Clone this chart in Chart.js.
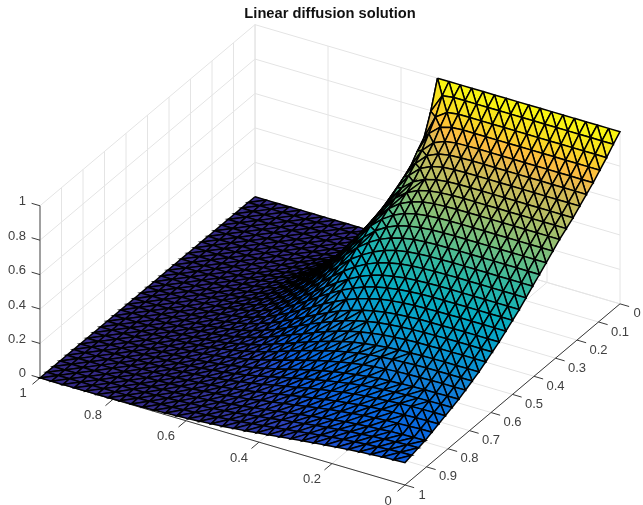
<!DOCTYPE html>
<html>
<head>
<meta charset="utf-8">
<style>
  html, body { margin: 0; padding: 0; background: #fff; }
  #wrap { width: 643px; height: 505px; }
</style>
<script src="https://cdn.jsdelivr.net/npm/chart.js@4/dist/chart.umd.min.js"></script>
</head>
<body>
<div id="wrap"><canvas id="chart" width="643" height="505"></canvas></div>
<script>
// Tick values and labels
const xTicks = [1, 0.8, 0.6, 0.4, 0.2, 0];
const yTicks = [0, 0.1, 0.2, 0.3, 0.4, 0.5, 0.6, 0.7, 0.8, 0.9, 1];
const zTicks = [0, 0.2, 0.4, 0.6, 0.8, 1];

// Mesh nodes
const xNodes = [0, .03125, .0625, .09375, .125, .15625, .1875, .21875, .25, .28125, .3125, .34375, .375, .40625, .4375, .46875, .5,
  .53125, .5625, .59375, .625, .65625, .6875, .71875, .75, .78125, .8125, .84375, .875, .90625, .9375, .96875, 1];
const yNodes = xNodes.slice();

// u(x, y), one row per yNodes entry, one column per xNodes entry
const uRows = [
  [1,1,1,1,1,1,1,1,1,1,1,1,1,1,1,1,1,0,0,0,0,0,0,0,0,0,0,0,0,0,0,0,0],
  [.96,.96,.96,.96,.96,.96,.96,.96,.96,.96,.96,.96,.96,.96,.96,.95,.84,.48,.115,.01,0,0,0,0,0,0,0,0,0,0,0,0,0],
  [.915,.915,.915,.915,.915,.915,.915,.915,.915,.915,.915,.915,.915,.915,.905,.86,.72,.46,.197,.055,.009,.001,0,0,0,0,0,0,0,0,0,0,0],
  [.875,.875,.875,.875,.875,.875,.875,.875,.875,.875,.875,.875,.875,.87,.853,.796,.674,.481,.271,.118,.037,.009,.002,0,0,0,0,0,0,0,0,0,0],
  [.835,.835,.835,.835,.835,.835,.835,.835,.835,.835,.835,.834,.832,.822,.795,.732,.62,.469,.302,.162,.073,.026,.008,.002,0,0,0,0,0,0,0,0,0],
  [.8,.8,.8,.8,.8,.8,.8,.8,.8,.8,.8,.798,.794,.782,.752,.688,.59,.458,.315,.185,.094,.04,.014,.004,.001,0,0,0,0,0,0,0,0],
  [.765,.765,.765,.765,.765,.765,.765,.765,.765,.765,.764,.762,.757,.742,.711,.65,.561,.447,.318,.204,.115,.056,.024,.008,.002,.001,0,0,0,0,0,0,0],
  [.73,.73,.73,.73,.73,.73,.73,.73,.73,.73,.729,.726,.718,.7,.668,.612,.531,.43,.32,.216,.131,.071,.034,.015,.005,.002,.001,0,0,0,0,0,0],
  [.7,.7,.7,.7,.7,.7,.7,.7,.7,.7,.698,.694,.686,.669,.637,.585,.513,.42,.319,.224,.141,.081,.042,.019,.008,.003,.001,0,0,0,0,0,0],
  [.67,.67,.67,.67,.67,.67,.67,.67,.67,.669,.667,.663,.655,.637,.606,.557,.491,.409,.316,.228,.149,.09,.05,.024,.011,.004,.001,.001,0,0,0,0,0],
  [.635,.635,.635,.635,.635,.635,.635,.635,.635,.634,.632,.627,.618,.601,.572,.528,.469,.398,.318,.237,.166,.107,.064,.034,.017,.008,.003,.001,.001,0,0,0,0],
  [.6,.6,.6,.6,.6,.6,.6,.6,.6,.598,.596,.59,.58,.563,.535,.493,.437,.373,.3,.227,.163,.107,.065,.037,.02,.01,.004,.002,.001,.001,0,0,0],
  [.565,.565,.565,.565,.565,.565,.565,.565,.564,.563,.56,.554,.542,.525,.497,.459,.409,.349,.283,.216,.156,.106,.068,.04,.023,.011,.005,.002,.001,.001,0,0,0],
  [.53,.53,.53,.53,.53,.53,.53,.53,.528,.527,.523,.516,.504,.485,.456,.419,.374,.318,.259,.2,.146,.103,.067,.041,.023,.012,.006,.003,.001,.001,0,0,0],
  [.495,.495,.495,.495,.495,.495,.495,.494,.493,.49,.486,.478,.465,.446,.419,.383,.339,.289,.236,.185,.137,.098,.065,.041,.024,.013,.007,.003,.001,.001,0,0,0],
  [.46,.46,.46,.46,.46,.46,.46,.459,.457,.454,.449,.439,.426,.406,.38,.345,.305,.261,.214,.169,.127,.091,.062,.04,.024,.014,.008,.004,.002,.001,.001,0,0],
  [.43,.43,.43,.43,.43,.429,.429,.428,.426,.422,.415,.405,.391,.372,.345,.313,.276,.237,.193,.154,.117,.085,.058,.039,.025,.015,.008,.004,.002,.001,.001,0,0],
  [.4,.4,.4,.4,.4,.399,.398,.396,.394,.389,.382,.372,.356,.336,.311,.28,.247,.209,.173,.136,.105,.076,.053,.036,.023,.014,.008,.004,.002,.001,.001,0,0],
  [.37,.37,.37,.37,.369,.368,.367,.366,.362,.357,.349,.337,.321,.301,.278,.249,.218,.185,.152,.121,.092,.069,.049,.033,.021,.013,.008,.004,.003,.001,.001,0,0],
  [.345,.345,.345,.345,.344,.343,.342,.339,.335,.329,.321,.308,.293,.274,.25,.224,.196,.165,.136,.107,.083,.062,.043,.03,.02,.012,.008,.004,.003,.001,.001,.001,0],
  [.32,.32,.32,.319,.319,.317,.316,.313,.308,.302,.293,.281,.265,.246,.224,.199,.172,.148,.121,.096,.074,.055,.039,.027,.018,.012,.007,.004,.002,.001,.001,.001,0],
  [.295,.295,.294,.294,.293,.292,.289,.286,.281,.274,.265,.253,.238,.22,.199,.177,.154,.129,.107,.084,.066,.05,.035,.025,.017,.011,.007,.004,.002,.001,.001,.001,0],
  [.275,.275,.274,.274,.273,.271,.268,.264,.259,.252,.242,.23,.216,.199,.18,.159,.138,.116,.095,.076,.059,.045,.033,.023,.016,.011,.007,.004,.002,.001,.001,.001,0],
  [.255,.254,.254,.253,.251,.249,.246,.241,.236,.227,.217,.205,.19,.175,.156,.137,.118,.099,.08,.065,.05,.038,.028,.019,.014,.009,.006,.004,.002,.001,.001,.001,0],
  [.235,.234,.233,.232,.23,.227,.223,.219,.212,.203,.193,.181,.167,.151,.135,.118,.1,.084,.068,.054,.042,.032,.024,.016,.012,.008,.005,.003,.002,.001,.001,.001,0],
  [.22,.219,.218,.216,.214,.211,.206,.201,.193,.185,.173,.162,.148,.134,.118,.103,.087,.073,.059,.047,.036,.028,.02,.015,.01,.007,.005,.003,.002,.001,.001,.001,0],
  [.205,.204,.203,.201,.198,.194,.189,.183,.175,.166,.155,.144,.131,.117,.104,.09,.076,.063,.052,.041,.032,.024,.018,.013,.009,.006,.004,.003,.002,.001,.001,.001,0],
  [.19,.189,.187,.184,.181,.177,.172,.165,.157,.148,.138,.127,.115,.103,.09,.078,.066,.054,.044,.035,.028,.021,.016,.012,.008,.006,.004,.003,.002,.001,.001,.001,0],
  [.175,.174,.171,.168,.165,.16,.155,.148,.14,.132,.122,.111,.1,.089,.078,.068,.056,.047,.038,.031,.024,.018,.014,.01,.007,.005,.004,.002,.002,.001,.001,.001,0],
  [.16,.158,.156,.153,.148,.144,.138,.132,.124,.116,.106,.097,.087,.077,.067,.058,.048,.04,.032,.026,.02,.016,.011,.009,.006,.004,.003,.002,.001,.001,.001,0,0],
  [.15,.148,.145,.142,.138,.132,.127,.12,.113,.105,.096,.087,.078,.068,.06,.051,.042,.035,.028,.023,.018,.014,.01,.008,.005,.004,.003,.002,.001,.001,.001,0,0],
  [.14,.138,.134,.13,.126,.12,.115,.108,.101,.092,.084,.076,.067,.059,.051,.043,.036,.03,.024,.019,.015,.011,.009,.006,.005,.003,.002,.002,.001,.001,.001,0,0],
  [.13,.127,.124,.119,.115,.109,.103,.096,.089,.082,.074,.066,.058,.051,.043,.037,.03,.025,.02,.016,.013,.01,.007,.005,.004,.003,.002,.001,.001,.001,0,0,0]
];

// Parula colormap stops [value, r, g, b]
const colorStops = [
  [0.000, 53, 42, 135], [0.079, 44, 67, 186], [0.127, 15, 92, 221], [0.190, 8, 109, 224], [0.254, 20, 129, 214],
  [0.317, 9, 152, 209], [0.413, 7, 172, 193], [0.508, 46, 183, 164], [0.603, 113, 191, 128], [0.698, 174, 190, 103],
  [0.794, 216, 186, 85], [0.841, 249, 186, 68], [0.873, 254, 195, 55], [0.905, 247, 216, 37], [1.000, 249, 251, 14]
];

const gridColor = '#e4e4e4';
const axisColor = '#3a3a3a';
const textColor = '#404040';
const meshColor = '#000000';

// Orthographic view of the unit box, in canvas units
function project(x, y, z) {
  const a = 1 - x, b = 1 - y;
  return { x: 40 + 365 * a + 215 * b, y: 378 + 107 * a - 181 * b - 172 * z };
}

function surfaceColor(v) {
  const c = Math.max(0, Math.min(1, v));
  for (let k = 1; k < colorStops.length; k++) {
    if (c <= colorStops[k][0]) {
      const p = colorStops[k - 1], q = colorStops[k];
      const t = (c - p[0]) / (q[0] - p[0]);
      return `rgb(${Math.round(p[1] + (q[1] - p[1]) * t)},${Math.round(p[2] + (q[2] - p[2]) * t)},${Math.round(p[3] + (q[3] - p[3]) * t)})`;
    }
  }
  return 'rgb(249,251,14)';
}

function lineSet(points, color, width) {
  return {
    data: points.map(p => project(p[0], p[1], p[2])),
    borderColor: color, borderWidth: width,
    pointRadius: 0, fill: false, tension: 0, showLine: true, clip: false
  };
}

// Painter's order: first pushed is the farthest
const drawList = [];

// Walls and floor grid
zTicks.forEach(z => {
  drawList.push(lineSet([[1, 1, z], [1, 0, z], [0, 0, z]], gridColor, 1));
});
xTicks.forEach(x => {
  drawList.push(lineSet([[x, 1, 0], [x, 0, 0], [x, 0, 1]], gridColor, 1));
});
yTicks.forEach(y => {
  drawList.push(lineSet([[0, y, 0], [1, y, 0], [1, y, 1]], gridColor, 1));
});

// Axis lines and tick marks
drawList.push(lineSet([[1, 1, 0], [1, 1, 1]], '#6a6a6a', 1.2));
drawList.push(lineSet([[1, 1, 0], [0, 1, 0], [0, 0, 0]], axisColor, 1));
xTicks.forEach(x => {
  drawList.push(lineSet([[x, 1, 0], [x, 1.035, 0]], axisColor, 1));
});
yTicks.forEach(y => {
  drawList.push(lineSet([[0, y, 0], [-0.025, y, 0]], axisColor, 1));
});
zTicks.forEach(z => {
  drawList.push(lineSet([[1, 1, z], [1.023, 1, z]], axisColor, 1));
});

// Surface triangles
function triangle(i1, n1, i2, n2, i3, n3) {
  const u1 = uRows[n1][i1], u2 = uRows[n2][i2], u3 = uRows[n3][i3];
  return {
    data: [
      project(xNodes[i1], yNodes[n1], u1),
      project(xNodes[i2], yNodes[n2], u2),
      project(xNodes[i3], yNodes[n3], u3),
      project(xNodes[i1], yNodes[n1], u1)
    ],
    borderColor: meshColor, borderWidth: 1.5,
    backgroundColor: surfaceColor((u1 + u2 + u3) / 3),
    pointRadius: 0, fill: 'shape', tension: 0, showLine: true, clip: false
  };
}
for (let n = 0; n < yNodes.length - 1; n++) {
  for (let i = xNodes.length - 2; i >= 0; i--) {
    // the mesh diagonal flips on the slope of the high plateau
    const steep = i < 18 && uRows[n][i] - uRows[n + 1][i] > 0.012 + 0.0015 * i;
    if (steep) {
      drawList.push(triangle(i + 1, n, i, n, i, n + 1));
      drawList.push(triangle(i + 1, n, i, n + 1, i + 1, n + 1));
    } else {
      drawList.push(triangle(i + 1, n, i, n, i + 1, n + 1));
      drawList.push(triangle(i, n, i, n + 1, i + 1, n + 1));
    }
  }
}

// Tick labels sit at a fixed offset from their tick
const tickLabels = {
  id: 'tickLabels',
  afterDraw(chart) {
    const { ctx, scales } = chart;
    const put = (text, p, dx, dy, align) => {
      ctx.textAlign = align;
      ctx.fillText(text, scales.x.getPixelForValue(p.x) + dx, scales.y.getPixelForValue(p.y) + dy);
    };
    ctx.save();
    ctx.font = '13px "Liberation Sans", Arial, sans-serif';
    ctx.fillStyle = textColor;
    ctx.textBaseline = 'middle';
    zTicks.forEach(z => put(String(z), project(1, 1, z), -14, -4, 'right'));
    xTicks.forEach(x => put(String(x), project(x, 1, 0), x === 0 || x === 1 ? -17 : -20, 16, 'center'));
    yTicks.forEach(y => put(String(y), project(0, y, 0), y === 0 || y === 1 ? 17 : 21.5, 10, 'center'));
    ctx.restore();
  }
};

new Chart(document.getElementById('chart'), {
  type: 'scatter',
  data: { datasets: drawList.slice().reverse() },
  plugins: [tickLabels],
  options: {
    responsive: false,
    animation: false,
    events: [],
    layout: { padding: { left: 17 } },
    plugins: {
      legend: { display: false },
      tooltip: { enabled: false },
      title: {
        display: true,
        text: 'Linear diffusion solution',
        color: '#111111',
        font: { family: '"Liberation Sans", Arial, sans-serif', size: 14.7, weight: 'bold', lineHeight: 1.2 },
        padding: { top: 5, bottom: 0 }
      }
    },
    scales: {
      x: { type: 'linear', min: 17, max: 643, display: false },
      y: { type: 'linear', min: 23, max: 505, reverse: true, display: false }
    }
  }
});
</script>
</body>
</html>
